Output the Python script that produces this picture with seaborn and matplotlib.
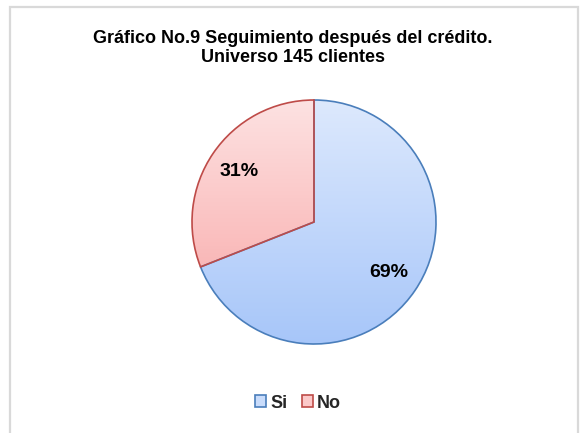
import numpy as np
import matplotlib
matplotlib.use("Agg")
import matplotlib.pyplot as plt
from matplotlib.patches import Rectangle, Patch
from matplotlib.colors import LinearSegmentedColormap
import seaborn as sns

labels = ["Si", "No"]
values = [69, 31]
title = "Gráfico No.9 Seguimiento después del crédito.\nUniverso 145 clientes"

top_colors = ["#dde9fd", "#fde2e2"]
bottom_colors = ["#a7c6f9", "#f8a4a4"]
edge_colors = ["#4a7ebb", "#be4b48"]

sns.set_theme(style="white")
plt.rcParams['font.family'] = ['Liberation Sans', 'DejaVu Sans']

fig = plt.figure(figsize=(5.8, 4.33), dpi=100)
fig.patch.set_facecolor("white")

# light grey frame around the chart (bottom edge falls outside the image)
fig.patches.append(Rectangle((10 / 580, -0.05), 568 / 580, 1.05 - 7 / 433,
                             transform=fig.transFigure, fill=False,
                             edgecolor="#d9d9d9", linewidth=1.6))

fig.text(293 / 580, 1 - 48 / 433, title, ha="center", va="center",
         fontsize=13, fontweight="bold", color="#000000", linespacing=1.1)

# pie axes: centre (314, 222) px, radius ~122 px
lim = 1.03
r_px = 122 * lim
ax = fig.add_axes([(314 - r_px) / 580, 1 - (222 + r_px) / 433, 2 * r_px / 580, 2 * r_px / 433])
wedges, texts, autotexts = ax.pie(values, startangle=90, counterclock=False, radius=1,
                                  autopct="%1.0f%%", pctdistance=0.74,
                                  wedgeprops=dict(linewidth=1.2),
                                  textprops=dict(fontsize=14, fontweight="bold", color="black"))
ax.set_aspect("equal")
ax.axis("off")

grad = np.linspace(0, 1, 256).reshape(-1, 1)
for w, c0, c1, ec in zip(wedges, top_colors, bottom_colors, edge_colors):
    w.set_facecolor("none")
    w.set_edgecolor(ec)
    w.set_zorder(3)
    cmap = LinearSegmentedColormap.from_list("g", [c0, c1])
    im = ax.imshow(grad, cmap=cmap, extent=[-1, 1, -1, 1], origin="upper",
                   aspect="auto", zorder=2)
    im.set_clip_path(w)
for t in autotexts:
    t.set_zorder(4)
ax.set_xlim(-lim, lim)
ax.set_ylim(-lim, lim)

handles = [Patch(facecolor=c0, edgecolor=ec, linewidth=1.2)
           for c0, ec in zip(["#c9dcfb", "#fbc9c9"], edge_colors)]
fig.legend(handles, labels, loc="center", bbox_to_anchor=(298 / 580, 1 - 403 / 433),
           ncol=2, frameon=False, handlelength=0.6, handleheight=0.6,
           handletextpad=0.25, columnspacing=0.8,
           prop=dict(weight="bold", size=13, family=['Liberation Sans', 'DejaVu Sans']))

fig.savefig("out.png", dpi=100, facecolor="white")
